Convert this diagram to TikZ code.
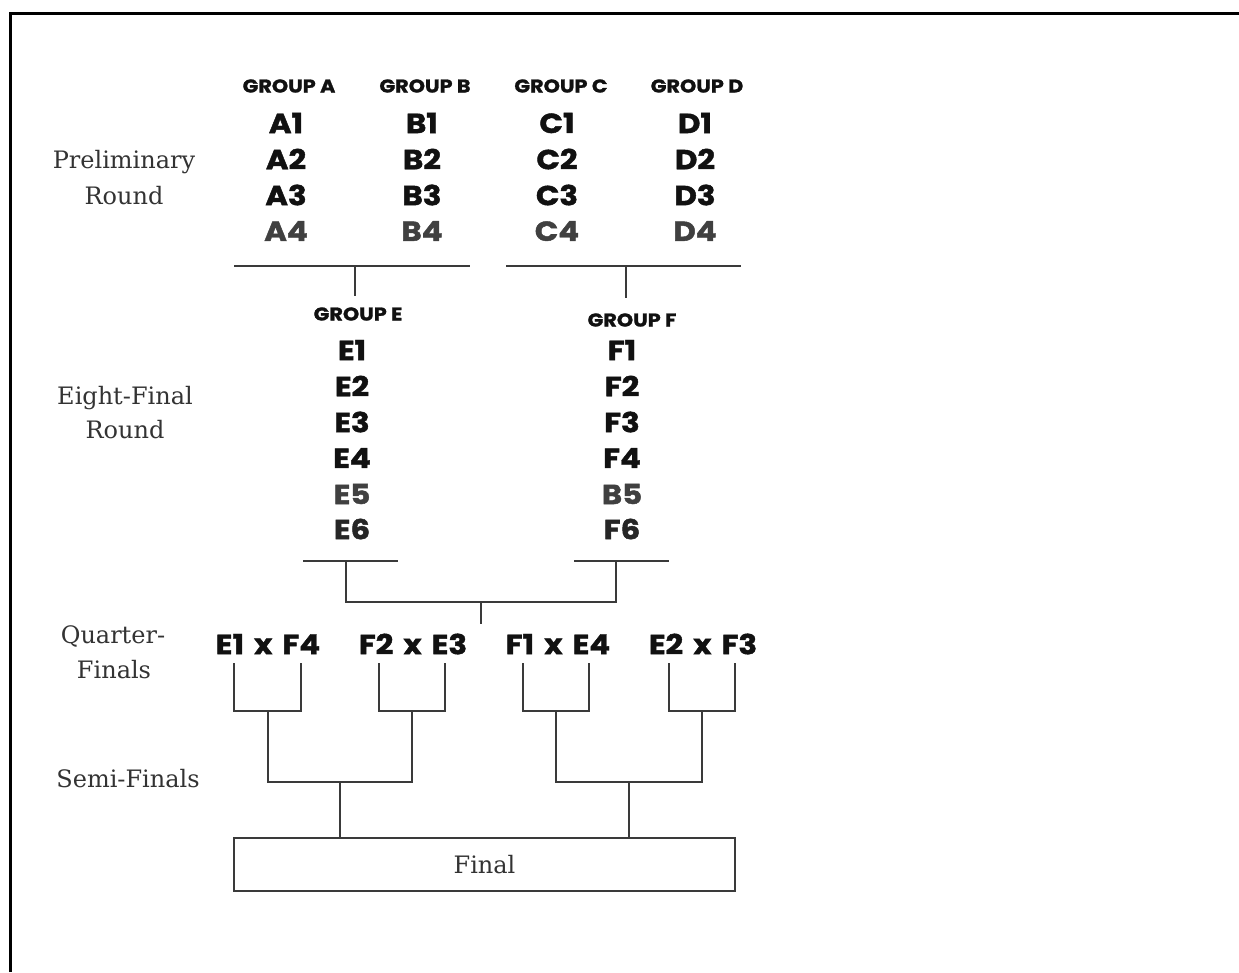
\documentclass[tikz,border=0pt]{standalone}
\usepackage{fontspec}
\newfontfamily\teamfont{Poppins}[BoldFeatures={FakeBold=1.6, FakeStretch=1.12}]
\newfontfamily\pairfont{Poppins}[BoldFeatures={FakeBold=1.6, FakeStretch=1.12}, WordSpace=1.25]
\newfontfamily\grpfont{Poppins}[BoldFeatures={FakeBold=1.2, FakeStretch=1.12}]
\newfontfamily\labelfont{DejaVu Serif}
\definecolor{ink}{HTML}{111111}
\definecolor{dim}{HTML}{404040}
\definecolor{dimb}{HTML}{262626}
\definecolor{linec}{HTML}{3A3A3A}
\definecolor{labc}{HTML}{333333}
\begin{document}
\begin{tikzpicture}[x=1pt,y=-1pt,
  team/.style={font=\teamfont\bfseries\fontsize{27.5}{27.5}\selectfont, text=ink, inner sep=0pt},
  dimteam/.style={team, text=dim},
  dimteamb/.style={team, text=dimb},
  pair/.style={font=\pairfont\bfseries\fontsize{27.5}{27.5}\selectfont, text=ink, inner sep=0pt},
  grp/.style={font=\grpfont\bfseries\fontsize{18.5}{18.5}\selectfont, text=ink, inner sep=0pt},
  rlabel/.style={font=\labelfont\fontsize{24}{24}\selectfont, text=labc, inner sep=0pt, anchor=base},
  wire/.style={draw=linec, line width=2pt, line join=miter},
]
\useasboundingbox (0,0) rectangle (1239,972);
\draw[line width=3pt, line join=miter] (10,972) -- (10,13) -- (1239,13);

% round labels
\node[rlabel] (prelimA) at (124,168) {Preliminary};
\node[rlabel] (prelimB) at (124,204) {Round};
\node[rlabel] (eightA) at (125,404) {Eight-Final};
\node[rlabel] (eightB) at (125,438) {Round};
\node[rlabel] (quarterA) at (113,643) {Quarter-};
\node[rlabel] (quarterB) at (114,678) {Finals};
\node[rlabel] (semi) at (128,787) {Semi-Finals};

% preliminary groups
\foreach \g/\hx/\x in {A/289/286, B/425/422, C/561/557, D/697/695} {
  \node[grp] (g\g) at (\hx,86) {GROUP \g};
  \node[team] (\g1) at (\x,123) {\g1};
  \node[team] (\g2) at (\x,159) {\g2};
  \node[team] (\g3) at (\x,195) {\g3};
  \node[dimteam] (\g4) at (\x,231) {\g4};
}

% connectors from preliminary groups
\coordinate (abL) at (234,266);
\coordinate (abR) at (470,266);
\coordinate (abM) at (355,266);
\coordinate (abE) at (355,296);
\coordinate (cdL) at (506,266);
\coordinate (cdR) at (741,266);
\coordinate (cdM) at (626,266);
\coordinate (cdE) at (626,298);
\draw[wire] (abL) -- (abR);
\draw[wire] (abM) -- (abE);
\draw[wire] (cdL) -- (cdR);
\draw[wire] (cdM) -- (cdE);

% eight-final groups
\node[grp] (gE) at (358,314) {GROUP E};
\node[grp] (gF) at (632,320) {GROUP F};
\node[team] (E1) at (352,350) {E1};
\node[team] (E2) at (352,386) {E2};
\node[team] (E3) at (352,422) {E3};
\node[team] (E4) at (352,458) {E4};
\node[dimteam] (E5) at (352,494) {E5};
\node[dimteamb] (E6) at (352,529) {E6};
\node[team] (F1) at (622,350) {F1};
\node[team] (F2) at (622,386) {F2};
\node[team] (F3) at (622,422) {F3};
\node[team] (F4) at (622,458) {F4};
\node[dimteam] (F5) at (622,494) {B5};
\node[dimteamb] (F6) at (622,529) {F6};

\coordinate (eL) at (303,561);
\coordinate (eR) at (398,561);
\coordinate (eM) at (346,561);
\coordinate (fL) at (574,561);
\coordinate (fR) at (669,561);
\coordinate (fM) at (616,561);
\coordinate (efM) at (481,602);
\coordinate (efE) at (481,624);
\draw[wire] (eL) -- (eR);
\draw[wire] (fL) -- (fR);
\draw[wire] (eM) |- (efM) -| (fM);
\draw[wire] (efM) -- (efE);

% quarter-finals
\node[pair] (q1) at (268,644) {E1 x F4};
\node[pair] (q2) at (413,644) {F2 x E3};
\node[pair] (q3) at (558,644) {F1 x E4};
\node[pair] (q4) at (703,644) {E2 x F3};

\coordinate (q1a) at (234,663);
\coordinate (q1b) at (301,663);
\coordinate (q2a) at (379,663);
\coordinate (q2b) at (445,663);
\coordinate (q3a) at (523,663);
\coordinate (q3b) at (589,663);
\coordinate (q4a) at (669,663);
\coordinate (q4b) at (735,663);
\coordinate (q1m) at (267.5,711);
\coordinate (q2m) at (412,711);
\coordinate (q3m) at (556,711);
\coordinate (q4m) at (702,711);
\draw[wire] (q1a) |- (q1m) -| (q1b);
\draw[wire] (q2a) |- (q2m) -| (q2b);
\draw[wire] (q3a) |- (q3m) -| (q3b);
\draw[wire] (q4a) |- (q4m) -| (q4b);

% semi-finals
\coordinate (s1) at (340,782);
\coordinate (s2) at (629,782);
\draw[wire] (q1m) |- (s1) -| (q2m);
\draw[wire] (q3m) |- (s2) -| (q4m);

% final
\node[wire, draw, minimum width=501pt, minimum height=53pt, inner sep=0pt,
  font=\labelfont\fontsize{24}{24}\selectfont, text=labc] (final) at (484.5,864.5) {Final};
\draw[wire] (s1) -- (s1 |- final.north);
\draw[wire] (s2) -- (s2 |- final.north);
\end{tikzpicture}
\end{document}
